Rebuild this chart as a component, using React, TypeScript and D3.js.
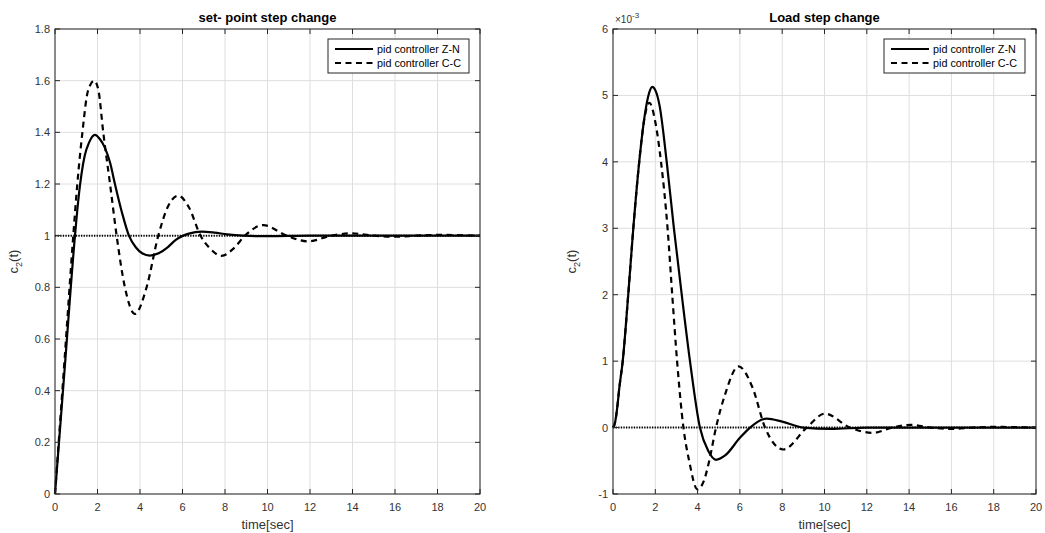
import React from 'react';
import * as d3 from 'd3';

// --- data ---
const xTicks = [0, 2, 4, 6, 8, 10, 12, 14, 16, 18, 20];
const spYTicks = [0, 0.2, 0.4, 0.6, 0.8, 1, 1.2, 1.4, 1.6, 1.8];
const loadYTicks = [-1, 0, 1, 2, 3, 4, 5, 6]; // x 10^-3

const seriesNames = ['pid controller Z-N', 'pid controller C-C'];

// set-point step change, Z-N
const spZnT = [0, 0.45, 0.94, 1.1, 1.25, 1.4, 1.6, 1.88, 2.1, 2.35, 2.6, 2.82, 3.15, 3.48, 3.8, 4.1, 4.47, 4.9, 5.3, 5.7, 6.3, 6.9, 7.5, 8.1, 8.85, 10, 12, 14, 20];
const spZnV = [0, 0.48, 1.0, 1.14, 1.24, 1.31, 1.36, 1.39, 1.375, 1.34, 1.28, 1.2, 1.09, 1.0, 0.955, 0.932, 0.923, 0.933, 0.955, 0.985, 1.008, 1.016, 1.012, 1.005, 1.0, 0.998, 1.0, 1.0, 1.0];

// set-point step change, C-C
const spCcT = [0, 0.45, 0.86, 1.05, 1.29, 1.55, 1.85, 2.05, 2.27, 2.59, 2.9, 3.29, 3.76, 4.31, 4.86, 5.3, 5.8, 6.3, 6.85, 7.3, 7.84, 8.4, 8.94, 9.8, 10.9, 11.92, 13.0, 13.96, 15.0, 16.08, 17, 18, 20];
const spCcV = [0, 0.52, 1.0, 1.2, 1.4, 1.56, 1.6, 1.56, 1.4, 1.2, 1.0, 0.8, 0.697, 0.8, 1.0, 1.11, 1.155, 1.11, 1.0, 0.95, 0.922, 0.95, 1.0, 1.041, 1.0, 0.978, 1.0, 1.009, 1.0, 0.996, 1.0, 1.003, 1.0];

// load step change, Z-N (x 10^-3)
const ldZnT = [0, 0.1, 0.2, 0.3, 0.46, 0.72, 0.96, 1.24, 1.5, 1.7, 1.86, 2.0, 2.2, 2.54, 2.88, 3.25, 3.64, 4.11, 4.5, 4.87, 5.3, 6.0, 6.48, 7.27, 8.0, 9.0, 10.3, 12, 14, 20];
const ldZnV = [0, 0.08, 0.3, 0.6, 1.0, 2.0, 3.0, 4.0, 4.7, 5.03, 5.13, 5.08, 4.85, 4.0, 3.0, 2.0, 1.0, 0.0, -0.35, -0.485, -0.42, -0.155, 0.0, 0.136, 0.09, 0.0, -0.02, 0.0, 0.0, 0.0];

// load step change, C-C (x 10^-3) - rising edge lies under the Z-N curve
const ldCcT = [0, 0.1, 0.2, 0.3, 0.46, 0.72, 0.96, 1.24, 1.5, 1.72, 2.0, 2.27, 2.58, 2.8, 3.03, 3.33, 3.6, 3.99, 4.3, 4.55, 4.87, 5.3, 5.93, 6.6, 7.19, 8.05, 9.16, 10.02, 11.2, 12.3, 13.2, 14.1, 15.0, 16.0, 17, 18, 20];
const ldCcV = [0, 0.08, 0.3, 0.6, 1.0, 2.0, 3.0, 4.0, 4.68, 4.89, 4.6, 4.0, 3.0, 2.0, 1.0, 0.0, -0.5, -0.93, -0.8, -0.5, 0.0, 0.5, 0.92, 0.6, 0.0, -0.33, 0.0, 0.21, 0.0, -0.08, 0.0, 0.04, 0.0, -0.02, 0.0, 0.01, 0.0];

const W = 1045;
const H = 533;
const TOP = 29;
const BOTTOM = 494;
const AX = '#262626';
const FONT = 'Arial, "Liberation Sans", sans-serif';

type Pt = [number, number];
const zip = (t: number[], v: number[]): Pt[] => t.map((d, i) => [d, v[i]]);

const Panel = ({ left, right, yDomain, yTicks, title, zn, cc, refLevel, exponent }: any) => {
  const x = d3.scaleLinear().domain([0, 20]).range([left, right]);
  const y = d3.scaleLinear().domain(yDomain).range([BOTTOM, TOP]);
  const line = d3.line<Pt>().x(d => x(d[0])).y(d => y(d[1])).curve(d3.curveMonotoneX);
  const cx = (left + right) / 2;
  const lgR = right - 11;
  const lgL = lgR - 141;
  const lgT = TOP + 10;

  return (
    <g>
      <rect x={left} y={TOP} width={right - left} height={BOTTOM - TOP} fill="#fff" />
      {/* grid */}
      {xTicks.map(t => (
        <line key={'gx' + t} x1={x(t)} x2={x(t)} y1={TOP} y2={BOTTOM} stroke="#dedede" strokeWidth={1} />
      ))}
      {yTicks.map((t: number) => (
        <line key={'gy' + t} x1={left} x2={right} y1={y(t)} y2={y(t)} stroke="#dedede" strokeWidth={1} />
      ))}
      {/* reference line */}
      <line x1={x(0)} x2={x(20)} y1={y(refLevel)} y2={y(refLevel)} stroke="#000" strokeWidth={2} strokeDasharray="1.3 1.3" />
      {/* curves */}
      <path d={line(cc) || ''} fill="none" stroke="#000" strokeWidth={2.2} strokeDasharray="6 4.5" />
      <path d={line(zn) || ''} fill="none" stroke="#000" strokeWidth={2.2} />
      {/* box and ticks */}
      <rect x={left} y={TOP} width={right - left} height={BOTTOM - TOP} fill="none" stroke={AX} strokeWidth={1} />
      {xTicks.map(t => (
        <g key={'tx' + t}>
          <line x1={x(t)} x2={x(t)} y1={BOTTOM} y2={BOTTOM - 5} stroke={AX} />
          <line x1={x(t)} x2={x(t)} y1={TOP} y2={TOP + 5} stroke={AX} />
          <text x={x(t)} y={BOTTOM + 17} textAnchor="middle" fontSize={11} fill="#333" fontFamily={FONT}>{t}</text>
        </g>
      ))}
      {yTicks.map((t: number) => (
        <g key={'ty' + t}>
          <line x1={left} x2={left + 5} y1={y(t)} y2={y(t)} stroke={AX} />
          <line x1={right} x2={right - 5} y1={y(t)} y2={y(t)} stroke={AX} />
          <text x={left - 5} y={y(t) + 4} textAnchor="end" fontSize={11} fill="#333" fontFamily={FONT}>{t}</text>
        </g>
      ))}
      {exponent && (
        <text x={left + 2} y={TOP - 6} fontSize={10} fill="#333" fontFamily={FONT}>
          ×10<tspan dy={-5} fontSize={8}>-3</tspan>
        </text>
      )}
      {/* labels */}
      <text x={cx} y={22} textAnchor="middle" fontSize={13} fontWeight="bold" fill="#000" fontFamily={FONT}>{title}</text>
      <text x={cx} y={529} textAnchor="middle" fontSize={13} fill="#333" fontFamily={FONT}>time[sec]</text>
      <text transform={`translate(${left - 37},${(TOP + BOTTOM) / 2}) rotate(-90)`} textAnchor="middle" fontSize={13} fill="#333" fontFamily={FONT}>
        c<tspan dy={4} fontSize={9}>2</tspan><tspan dy={-4}>(t)</tspan>
      </text>
      {/* legend */}
      <rect x={lgL} y={lgT} width={141} height={34} fill="#fff" stroke={AX} strokeWidth={1} />
      <line x1={lgL + 7} x2={lgL + 45} y1={lgT + 10} y2={lgT + 10} stroke="#000" strokeWidth={2.2} />
      <line x1={lgL + 7} x2={lgL + 45} y1={lgT + 24} y2={lgT + 24} stroke="#000" strokeWidth={2.2} strokeDasharray="6 4.5" />
      {seriesNames.map((s, i) => (
        <text key={s} x={lgL + 49} y={lgT + 14 + i * 14} fontSize={10.8} fill="#000" fontFamily={FONT}>{s}</text>
      ))}
    </g>
  );
};

export default function App() {
  return (
    <svg width={W} height={H} style={{ position: 'absolute', left: 0, top: 0, background: '#fff' }}>
      <Panel
        left={55}
        right={480}
        yDomain={[0, 1.8]}
        yTicks={spYTicks}
        title="set- point step change"
        zn={zip(spZnT, spZnV)}
        cc={zip(spCcT, spCcV)}
        refLevel={1}
      />
      <Panel
        left={613}
        right={1036}
        yDomain={[-1, 6]}
        yTicks={loadYTicks}
        title="Load step change"
        zn={zip(ldZnT, ldZnV)}
        cc={zip(ldCcT, ldCcV)}
        refLevel={0}
        exponent
      />
    </svg>
  );
}
